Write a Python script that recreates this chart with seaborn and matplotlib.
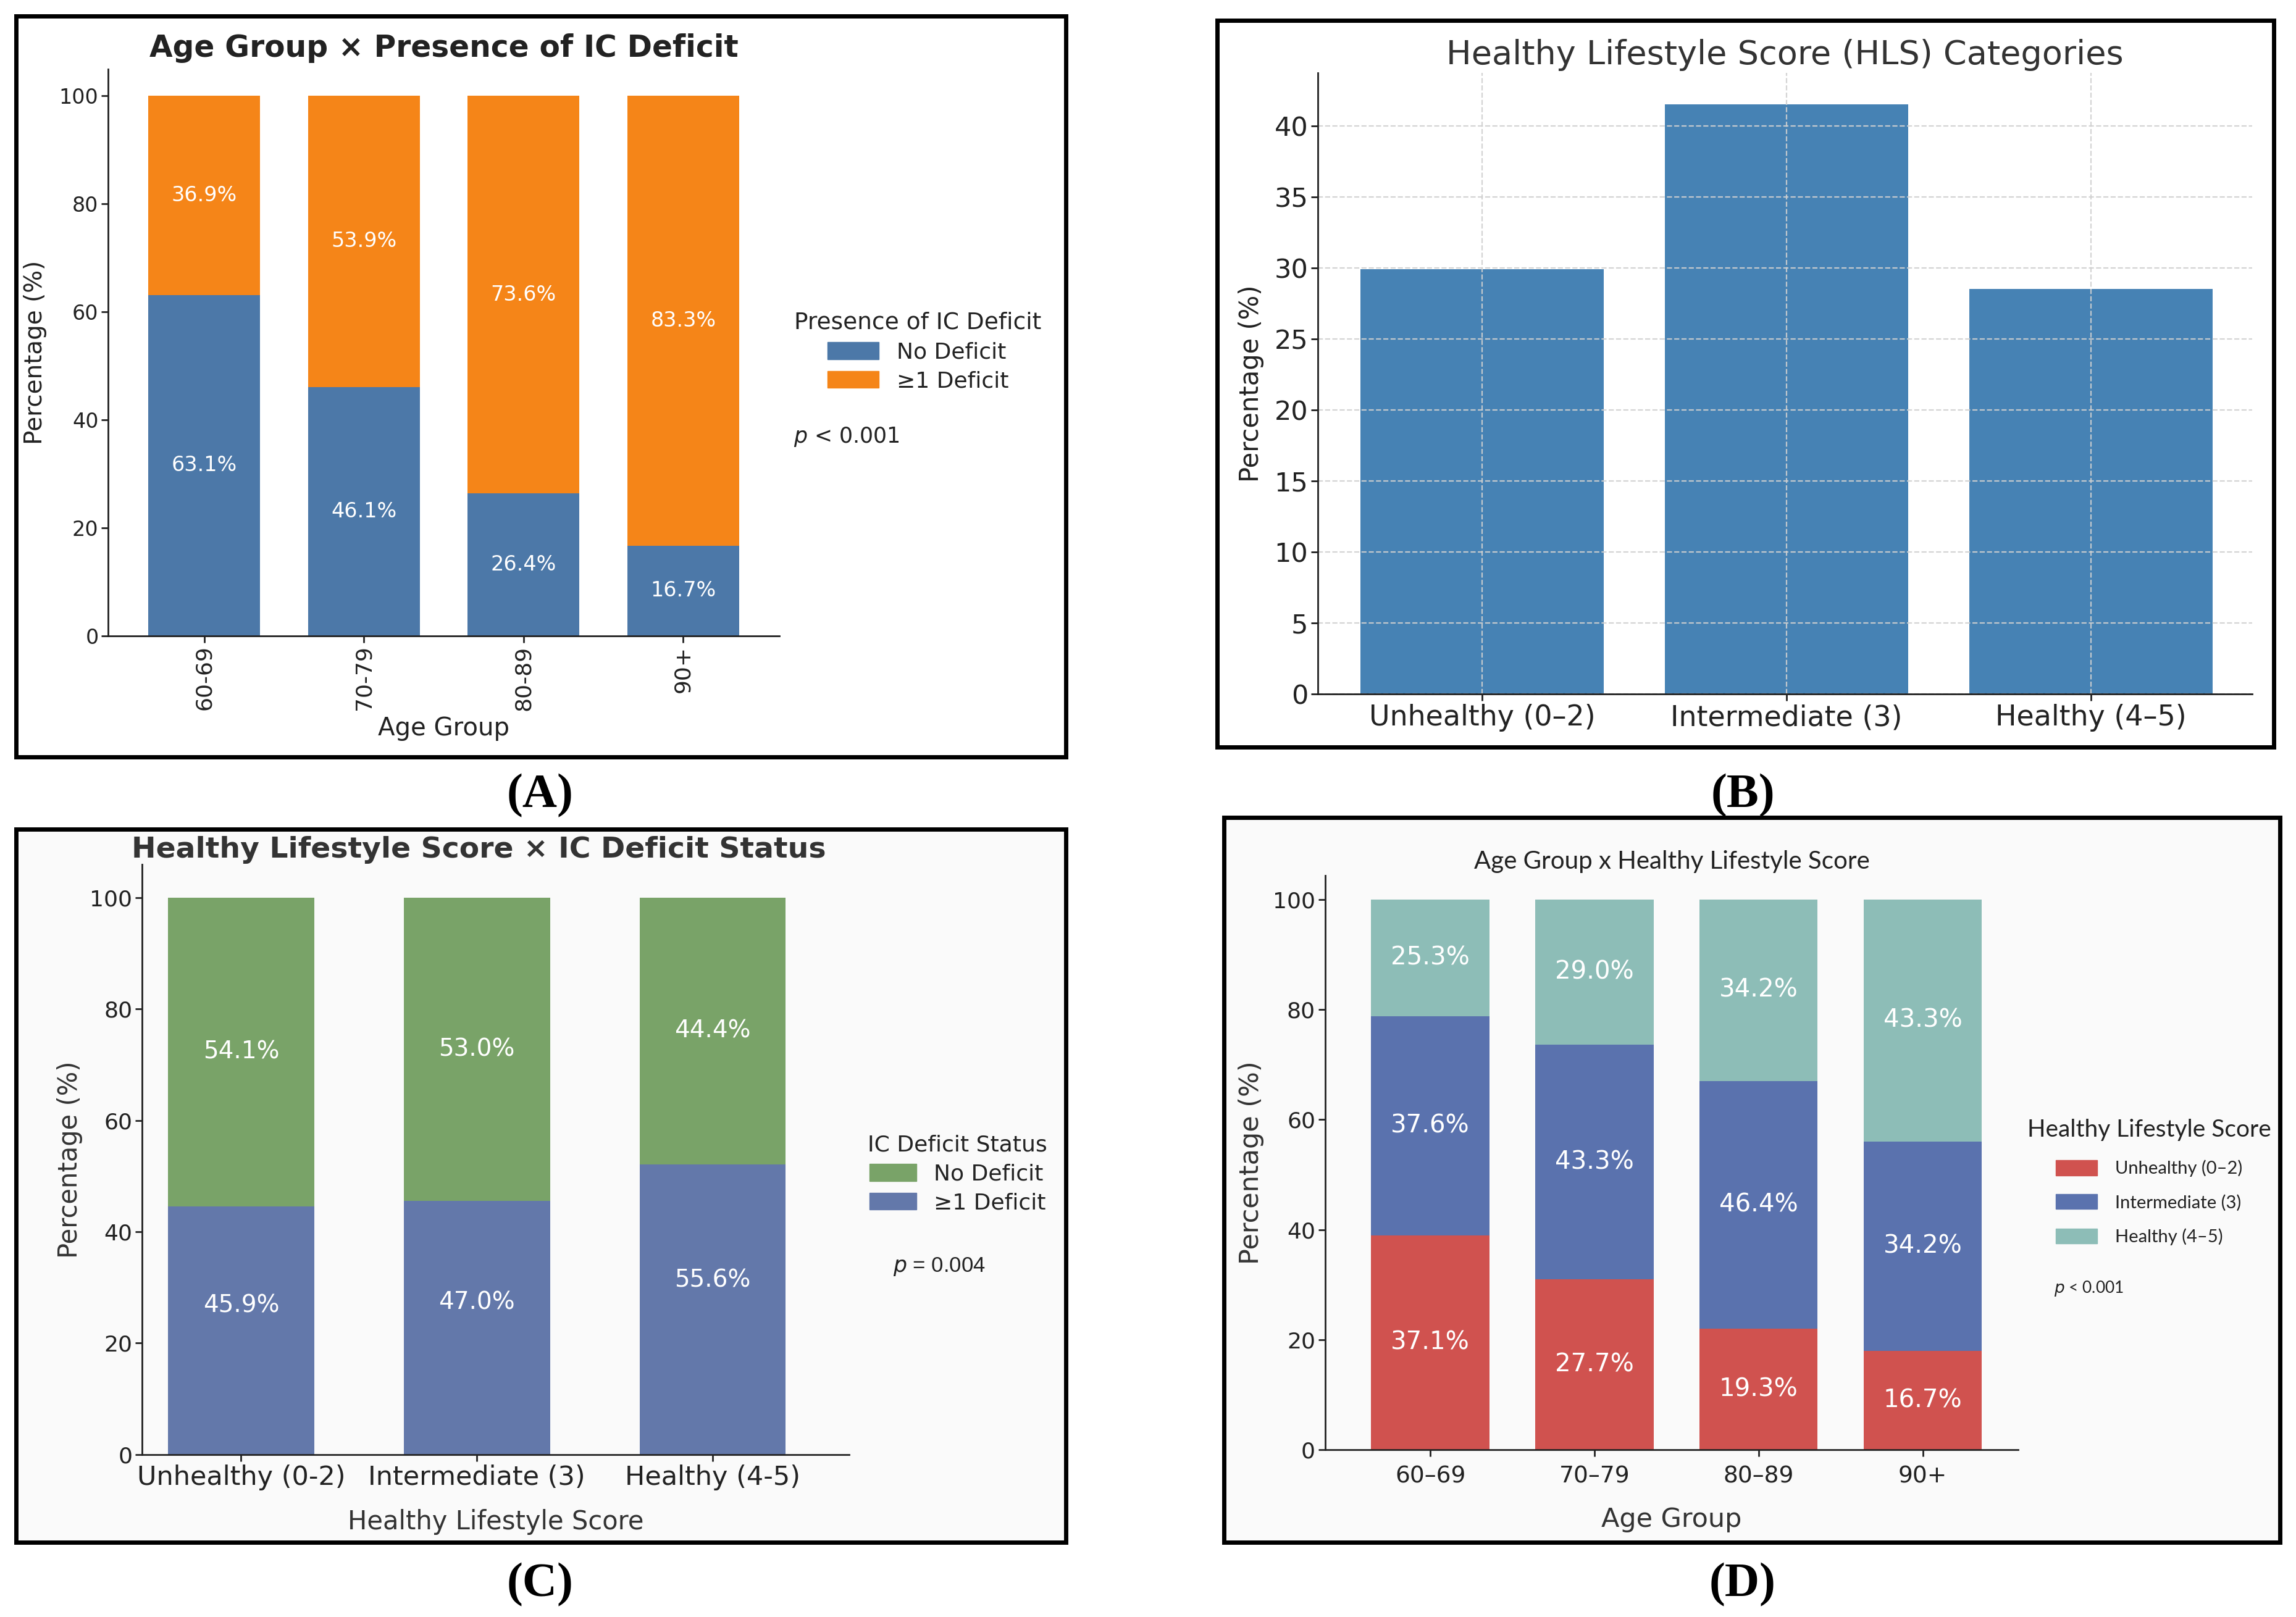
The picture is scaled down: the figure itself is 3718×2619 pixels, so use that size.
import numpy as np
import pandas as pd
import matplotlib
matplotlib.use("Agg")
import matplotlib.pyplot as plt
import seaborn as sns
from matplotlib.patches import Patch, Rectangle

# ------------------------------------------------------------
# DATA
# ------------------------------------------------------------

# (A) Age group x presence of IC deficit
age_groups_a = ["60-69", "70-79", "80-89", "90+"]
no_deficit_a = [63.1, 46.1, 26.4, 16.7]
deficit_a = [36.9, 53.9, 73.6, 83.3]

# (B) HLS categories
hls_cats_b = ["Unhealthy (0–2)", "Intermediate (3)", "Healthy (4–5)"]
hls_pct_b = [29.9, 41.5, 28.5]

# (C) HLS x IC deficit status (drawn heights + printed labels)
hls_cats_c = ["Unhealthy (0-2)", "Intermediate (3)", "Healthy (4-5)"]
deficit_c = [44.6, 45.5, 52.1]
no_deficit_c = [55.4, 54.5, 47.9]
deficit_c_labels = ["45.9%", "47.0%", "55.6%"]
no_deficit_c_labels = ["54.1%", "53.0%", "44.4%"]

# (D) Age group x HLS (drawn heights + printed labels)
age_groups_d = ["60–69", "70–79", "80–89", "90+"]
unhealthy_d = [39.0, 31.0, 22.0, 18.0]
intermediate_d = [39.8, 42.6, 45.0, 38.0]
healthy_d = [21.2, 26.4, 33.0, 44.0]
unhealthy_d_labels = ["37.1%", "27.7%", "19.3%", "16.7%"]
intermediate_d_labels = ["37.6%", "43.3%", "46.4%", "34.2%"]
healthy_d_labels = ["25.3%", "29.0%", "34.2%", "43.3%"]

# ------------------------------------------------------------
# STYLE
# ------------------------------------------------------------

sns.set_style("ticks")
plt.rcParams["font.family"] = ["DejaVu Sans"]
plt.rcParams["text.color"] = "#222222"
plt.rcParams["axes.labelcolor"] = "#222222"
plt.rcParams["xtick.color"] = "#222222"
plt.rcParams["ytick.color"] = "#222222"
plt.rcParams["axes.edgecolor"] = "#222222"
plt.rcParams["axes.linewidth"] = 2.0
plt.rcParams["xtick.major.width"] = 2.0
plt.rcParams["ytick.major.width"] = 2.0
plt.rcParams["xtick.major.size"] = 8
plt.rcParams["ytick.major.size"] = 8

fig = plt.figure(figsize=(37.18, 26.19), dpi=100)

# panel frames (light fill for C and D)
frames = {
    "A": (0.007, 0.5317, 0.4573, 0.4583),
    "B": (0.530, 0.538, 0.4604, 0.4493),
    "C": (0.007, 0.0462, 0.4573, 0.4411),
    "D": (0.5332, 0.0462, 0.4598, 0.4484),
}
for key, (x0, y0, w, h) in frames.items():
    if key in ("C", "D"):
        fig.add_artist(Rectangle((x0, y0), w, h, transform=fig.transFigure,
                                 facecolor="#fafafa", edgecolor="none", zorder=-5))
    fig.add_artist(Rectangle((x0, y0), w, h, transform=fig.transFigure,
                             fill=False, edgecolor="black", linewidth=5, zorder=10))


def stacked(ax, cats, segments, colors, width):
    # draw cumulative heights, tallest first, so each segment sits on the previous one
    cum = np.cumsum(np.array(segments), axis=0)
    for i in range(len(segments) - 1, -1, -1):
        sns.barplot(x=cats, y=cum[i], color=colors[i], width=width,
                    saturation=1, linewidth=0, ax=ax)
    return cum


# ------------------------------------------------------------
# (A)
# ------------------------------------------------------------
axA = fig.add_axes([0.0472, 0.6069, 0.2921, 0.3505])
colA = ["#4C78A8", "#F58518"]
cumA = stacked(axA, age_groups_a, [no_deficit_a, deficit_a], colA, 0.7)
for i in range(len(age_groups_a)):
    axA.text(i, no_deficit_a[i] / 2, f"{no_deficit_a[i]:.1f}%", ha="center",
             va="center", color="white", fontsize=24)
    axA.text(i, no_deficit_a[i] + deficit_a[i] / 2, f"{deficit_a[i]:.1f}%",
             ha="center", va="center", color="white", fontsize=24)
axA.set_xlim(-0.6, 3.6)
axA.set_ylim(0, 105)
axA.set_yticks([0, 20, 40, 60, 80, 100])
axA.tick_params(axis="y", labelsize=24)
axA.tick_params(axis="x", labelsize=26, rotation=90)
axA.set_xlabel("Age Group", fontsize=29, labelpad=7)
axA.set_ylabel("Percentage (%)", fontsize=28, labelpad=14)
axA.set_title("Age Group × Presence of IC Deficit", fontsize=35,
              fontweight="bold", pad=14)
sns.despine(ax=axA)
axA.legend(handles=[Patch(color=colA[0], label="No Deficit"),
                    Patch(color=colA[1], label="≥1 Deficit")],
           title="Presence of IC Deficit", fontsize=26, title_fontsize=27,
           frameon=False, loc="center left", bbox_to_anchor=(0.3460, 0.7826),
           bbox_transform=fig.transFigure, handlelength=2.3, handleheight=0.8,
           labelspacing=0.35, borderpad=0, borderaxespad=0)
fig.text(0.3457, 0.7300, r"$p$ < 0.001", fontsize=25, va="center", ha="left")

# ------------------------------------------------------------
# (B)
# ------------------------------------------------------------
axB = fig.add_axes([0.5740, 0.5707, 0.4069, 0.3841])
sns.barplot(x=hls_cats_b, y=hls_pct_b, color="#4682B4", width=0.8,
            saturation=1, linewidth=0, ax=axB)
axB.set_xlim(-0.54, 2.53)
axB.set_ylim(0, 43.7)
axB.set_yticks(np.arange(0, 41, 5))
axB.set_axisbelow("line")
axB.grid(True, linestyle="--", color="#d0d0d0", linewidth=1.6, alpha=0.9)
axB.tick_params(axis="y", labelsize=31)
axB.tick_params(axis="x", labelsize=33)
axB.set_xlabel("")
axB.set_ylabel("Percentage (%)", fontsize=30, labelpad=12)
axB.set_title("Healthy Lifestyle Score (HLS) Categories", fontsize=39,
              color="#333333", pad=10)
sns.despine(ax=axB)

# ------------------------------------------------------------
# (C)
# ------------------------------------------------------------
axC = fig.add_axes([0.0619, 0.1005, 0.3080, 0.3650])
axC.set_facecolor("none")
colC = ["#6378AA", "#79A368"]
stacked(axC, hls_cats_c, [deficit_c, no_deficit_c], colC, 0.62)
for i in range(len(hls_cats_c)):
    axC.text(i, deficit_c[i] * 0.6, deficit_c_labels[i], ha="center",
             va="center", color="white", fontsize=28)
    axC.text(i, deficit_c[i] + no_deficit_c[i] / 2, no_deficit_c_labels[i],
             ha="center", va="center", color="white", fontsize=28)
axC.set_xlim(-0.42, 2.58)
axC.set_ylim(0, 106)
axC.set_yticks([0, 20, 40, 60, 80, 100])
axC.tick_params(axis="y", labelsize=26)
axC.tick_params(axis="x", labelsize=31)
axC.set_xlabel("Healthy Lifestyle Score", fontsize=30, color="#333333", labelpad=22)
axC.set_ylabel("Percentage (%)", fontsize=30, color="#333333", labelpad=8)
axC.set_title("Healthy Lifestyle Score × IC Deficit Status", fontsize=34,
              fontweight="bold", color="#333333", pad=8, x=0.476)
sns.despine(ax=axC)
axC.legend(handles=[Patch(color=colC[1], label="No Deficit"),
                    Patch(color=colC[0], label="≥1 Deficit")],
           title="IC Deficit Status", fontsize=26, title_fontsize=26,
           frameon=False, loc="center left", bbox_to_anchor=(0.3780, 0.2740),
           bbox_transform=fig.transFigure, handlelength=2.1, handleheight=0.8,
           labelspacing=0.35, borderpad=0, borderaxespad=0)
fig.text(0.3890, 0.2165, r"$p$ = 0.004", fontsize=25, va="center", ha="left",
         family="Liberation Sans")

# ------------------------------------------------------------
# (D)
# ------------------------------------------------------------
axD = fig.add_axes([0.5772, 0.1033, 0.3017, 0.3551])
axD.set_facecolor("none")
colD = ["#D0524F", "#5A72AE", "#8DBDB7"]
segD = [unhealthy_d, intermediate_d, healthy_d]
labD = [unhealthy_d_labels, intermediate_d_labels, healthy_d_labels]
cumD = stacked(axD, age_groups_d, segD, colD, 0.72)
for k in range(3):
    for i in range(len(age_groups_d)):
        axD.text(i, cumD[k][i] - segD[k][i] / 2, labD[k][i], ha="center",
                 va="center", color="white", fontsize=29)
axD.set_xlim(-0.64, 3.58)
axD.set_ylim(0, 104.3)
axD.set_yticks([0, 20, 40, 60, 80, 100])
axD.tick_params(axis="y", labelsize=26)
axD.tick_params(axis="x", labelsize=27, pad=10)
axD.set_xlabel("Age Group", fontsize=31, color="#333333", labelpad=22)
axD.set_ylabel("Percentage (%)", fontsize=31, color="#333333", labelpad=10)
axD.set_title("Age Group x Healthy Lifestyle Score", fontsize=29,
              family="Lato", pad=8)
sns.despine(ax=axD)
legD = axD.legend(handles=[Patch(color=colD[0], label="Unhealthy (0–2)"),
                           Patch(color=colD[1], label="Intermediate (3)"),
                           Patch(color=colD[2], label="Healthy (4–5)")],
                  title="Healthy Lifestyle Score", title_fontsize=28,
                  prop={"family": "Lato", "size": 21},
                  frameon=False, loc="center left", bbox_to_anchor=(0.8830, 0.2690),
                  bbox_transform=fig.transFigure, handlelength=2.3,
                  handleheight=0.9, labelspacing=0.95, handletextpad=1.0,
                  borderpad=0, borderaxespad=0)
legD.get_title().set_family("Lato")
legD._legend_box.sep = 22
fig.text(0.8945, 0.2030, r"$p$ < 0.001", fontsize=19, va="center", ha="left",
         family="Lato")

# ------------------------------------------------------------
# PANEL LETTERS
# ------------------------------------------------------------
for letter, (x, y) in {"(A)": (0.2353, 0.508), "(B)": (0.759, 0.508),
                       "(C)": (0.2353, 0.0199), "(D)": (0.759, 0.0199)}.items():
    fig.text(x, y, letter, fontsize=56, fontweight="bold", family="Liberation Serif",
             ha="center", va="center", color="black")

fig.savefig("out.png", dpi=100)
